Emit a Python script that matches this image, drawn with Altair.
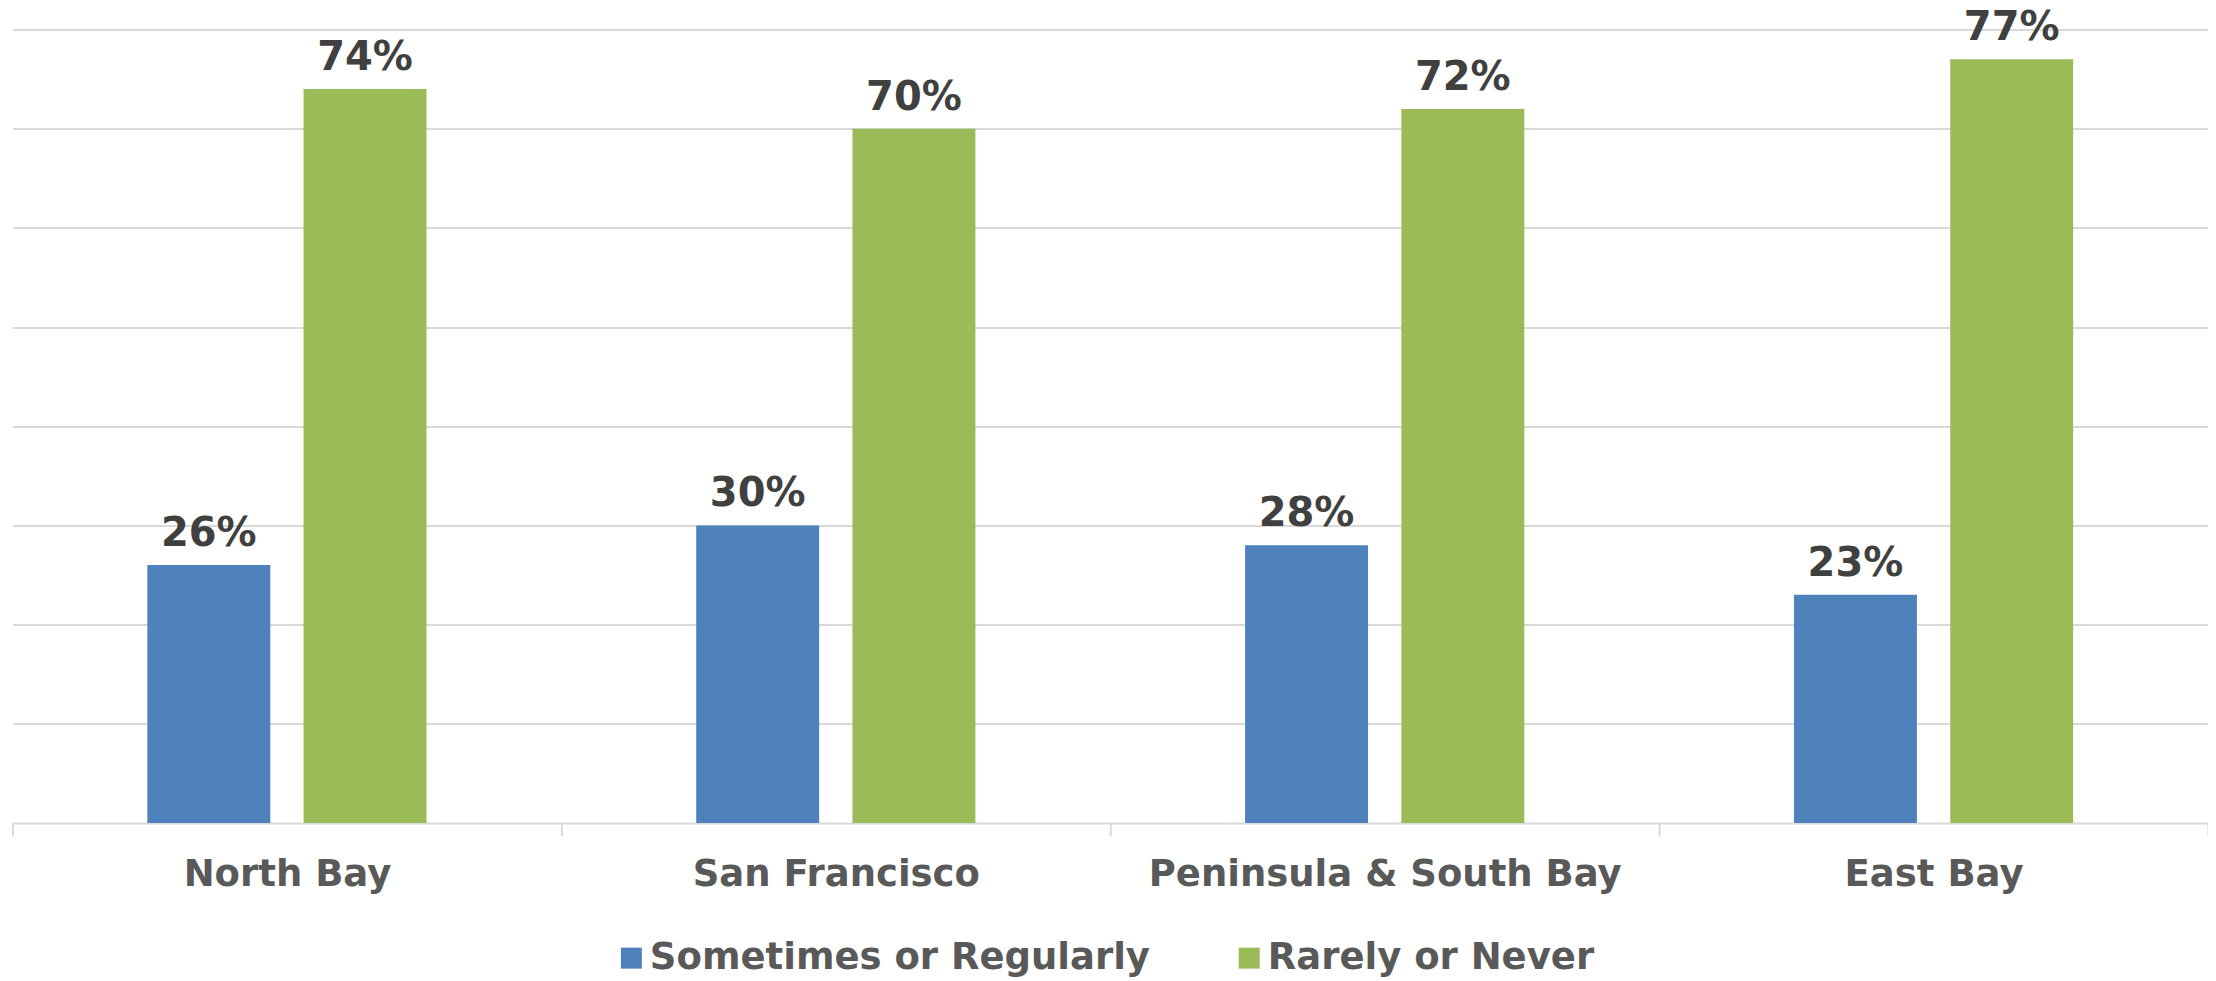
import altair as alt
import pandas as pd

regions = ["North Bay", "San Francisco", "Peninsula & South Bay", "East Bay"]
series = ["Sometimes or Regularly", "Rarely or Never"]
sometimes = [0.26, 0.30, 0.28, 0.23]
rarely = [0.74, 0.70, 0.72, 0.77]
colors = ["#4F81BD", "#9BBB59"]
grid_values = [0.1, 0.2, 0.3, 0.4, 0.5, 0.6, 0.7, 0.8]

rows = []
for i, r in enumerate(regions):
    rows.append({"region": r, "series": series[0], "value": sometimes[i]})
    rows.append({"region": r, "series": series[1], "value": rarely[i]})
df = pd.DataFrame(rows)

FONT = "DejaVu Sans"

base = alt.Chart(df).encode(
    x=alt.X(
        "region:N",
        sort=regions,
        title=None,
        scale=alt.Scale(paddingInner=0, paddingOuter=0),
        axis=alt.Axis(
            tickBand="extent",
            domainColor="#d9d9d9",
            domainWidth=2,
            tickColor="#d9d9d9",
            tickWidth=2,
            tickSize=13,
            labelFont=FONT,
            labelFontSize=37,
            labelFontWeight="bold",
            labelColor="#595959",
            labelPadding=21,
            labelAngle=0,
            labelLimit=1000,
            grid=False,
        ),
    ),
    xOffset=alt.XOffset(
        "series:N",
        sort=series,
        scale=alt.Scale(paddingInner=0.213, paddingOuter=0.863),
    ),
    y=alt.Y(
        "value:Q",
        title=None,
        scale=alt.Scale(domain=[0, 0.8], nice=False),
        axis=alt.Axis(
            values=grid_values,
            domain=False,
            ticks=False,
            labels=False,
            grid=True,
            gridColor="#d9d9d9",
            gridWidth=2,
        ),
    ),
)

bars = base.mark_bar().encode(
    color=alt.Color(
        "series:N",
        sort=series,
        scale=alt.Scale(domain=series, range=colors),
        legend=alt.Legend(
            title=None,
            orient="none",
            direction="horizontal",
            legendX=600.5,
            legendY=910,
            symbolType="square",
            symbolSize=441,
            symbolStrokeWidth=0,
            symbolOpacity=1,
            labelFont=FONT,
            labelFontSize=37,
            labelFontWeight="bold",
            labelColor="#595959",
            labelOffset=0,
            columnPadding=80,
            padding=0,
            labelLimit=1000,
        ),
    )
)

labels = base.mark_text(
    baseline="alphabetic",
    dy=-19,
    font=FONT,
    fontSize=40,
    fontWeight="bold",
    color="#404040",
).encode(text=alt.Text("value:Q", format=".0%"))

chart = (
    alt.layer(bars, labels)
    .properties(
        width=2196,
        height=793.5,
        autosize=alt.AutoSizeParams(type="none"),
        padding={"left": 4.5, "top": 21.5, "right": 0, "bottom": 156},
    )
    .configure_view(stroke=None)
)

chart.save("out.html", embed_options={"renderer": "svg", "actions": False})
